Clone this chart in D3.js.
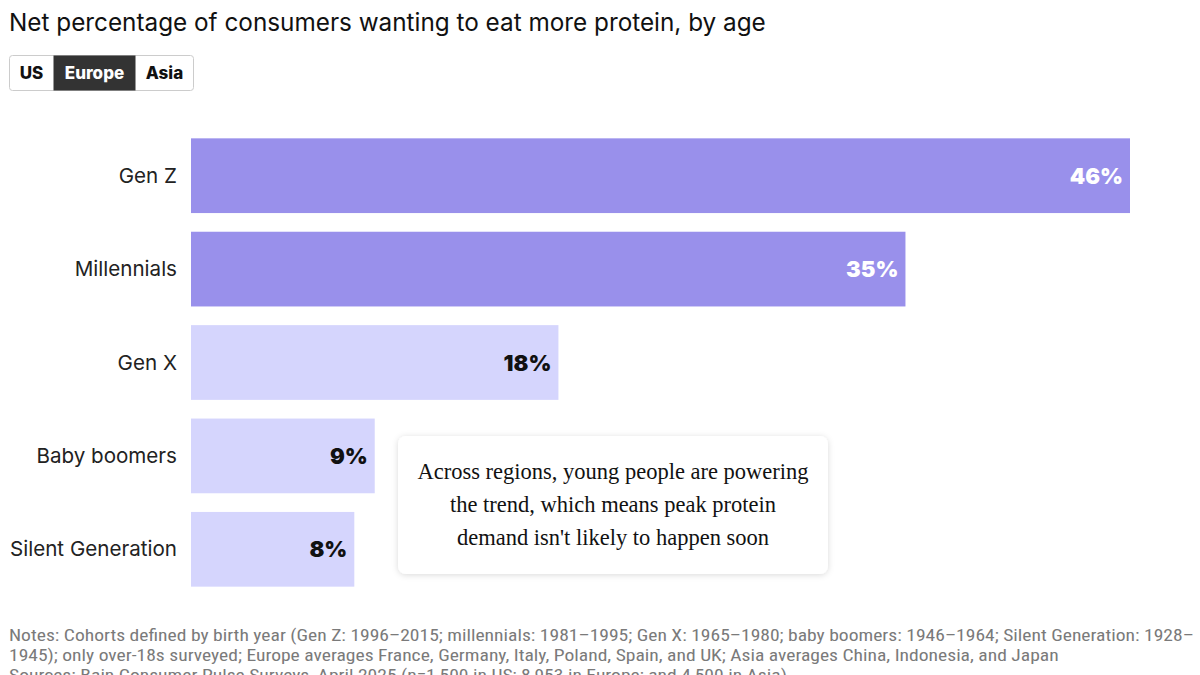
<!DOCTYPE html>
<html><head><meta charset="utf-8">
<script src="https://cdn.jsdelivr.net/npm/d3@7"></script>
<style>
html,body{margin:0;padding:0;background:#fff;}
svg{display:block;}
</style></head>
<body>
<svg id="chart" width="1200" height="675"></svg>
<script>
const categories = ["Gen Z", "Millennials", "Gen X", "Baby boomers", "Silent Generation"];
const values = [46, 35, 18, 9, 8];
const highlight = [true, true, false, false, false];
const regions = ["US", "Europe", "Asia"];
const activeRegion = "Europe";
const title = "Net percentage of consumers wanting to eat more protein, by age";
const annotationLines = ["Across regions, young people are powering", "the trend, which means peak protein", "demand isn't likely to happen soon"];
const noteLines = [
  "Notes: Cohorts defined by birth year (Gen Z: 1996–2015; millennials: 1981–1995; Gen X: 1965–1980; baby boomers: 1946–1964; Silent Generation: 1928–",
  "1945); only over-18s surveyed; Europe averages France, Germany, Italy, Poland, Spain, and UK; Asia averages China, Indonesia, and Japan",
  "Sources: Bain Consumer Pulse Surveys, April 2025 (n=1,500 in US; 8,953 in Europe; and 4,500 in Asia)"
];

const svg = d3.select("#chart");
const sans = "Inter, Roboto, 'Noto Sans', sans-serif";

svg.append("text").attr("x", 9).attr("y", 31)
  .attr("font-family", sans).attr("font-size", 24.3).attr("fill", "#111")
  .text(title);

// toggle
const btnW = [44, 82, 58];
const tg = svg.append("g").attr("transform", "translate(9,55)");
tg.append("rect").attr("x", 0.5).attr("y", 0.5).attr("width", d3.sum(btnW)).attr("height", 35)
  .attr("rx", 3).attr("fill", "#fff").attr("stroke", "#ccc");
let bx = 0;
regions.forEach((r, i) => {
  const active = r === activeRegion;
  if (active) tg.append("rect").attr("x", bx + 0.5).attr("y", 0.5).attr("width", btnW[i]).attr("height", 35).attr("fill", "#333");
  tg.append("text").attr("x", bx + btnW[i] / 2 + 0.5).attr("y", 24).attr("text-anchor", "middle")
    .attr("font-family", sans).attr("font-weight", 800).attr("font-size", 17)
    .attr("fill", active ? "#fff" : "#111").text(r);
  bx += btnW[i];
});

// chart
const x = d3.scaleLinear().domain([0, 46]).range([191, 1130]);
const y = d3.scaleBand().domain(categories).range([129, 596]).paddingInner(0.2).paddingOuter(0.1);

const data = categories.map((c, i) => ({c, v: values[i], h: highlight[i]}));

svg.append("g").selectAll("rect").data(data).join("rect")
  .attr("x", x(0)).attr("y", d => y(d.c)).attr("width", d => x(d.v) - x(0)).attr("height", y.bandwidth())
  .attr("fill", d => d.h ? "#9990eb" : "#d5d5fd");

svg.append("g").selectAll("text").data(data).join("text")
  .attr("x", 177).attr("y", d => y(d.c) + y.bandwidth() / 2 + 7)
  .attr("text-anchor", "end").attr("font-family", sans).attr("font-size", 20.6).attr("fill", "#222")
  .text(d => d.c);

svg.append("g").selectAll("text").data(data).join("text")
  .attr("x", d => x(d.v) - 7).attr("y", d => y(d.c) + y.bandwidth() / 2 + 8)
  .attr("text-anchor", "end").attr("font-family", sans).attr("font-weight", 900).attr("font-size", 22)
  .attr("fill", d => d.h ? "#fff" : "#111")
  .text(d => d.v + "%");

// annotation
const defs = svg.append("defs");
const f = defs.append("filter").attr("id", "sh").attr("x", "-10%").attr("y", "-20%").attr("width", "120%").attr("height", "140%");
f.append("feDropShadow").attr("dx", 0).attr("dy", 1).attr("stdDeviation", 3).attr("flood-color", "#000").attr("flood-opacity", 0.15);
svg.append("rect").attr("x", 398).attr("y", 436).attr("width", 430).attr("height", 138).attr("rx", 8)
  .attr("fill", "#fff").attr("filter", "url(#sh)");
svg.append("g").selectAll("text").data(annotationLines).join("text")
  .attr("x", 613).attr("y", (d, i) => 479 + i * 33).attr("text-anchor", "middle")
  .attr("font-family", "'Liberation Serif', 'DejaVu Serif', serif").attr("font-size", 22.5).attr("fill", "#111")
  .text(d => d);

// notes (condensed face, stretched horizontally to the reference width)
const ng = svg.append("g");
const notes = ng.selectAll("text").data(noteLines).join("text")
  .attr("x", 0).attr("y", (d, i) => 641 + i * 20)
  .attr("font-family", "'Liberation Sans Narrow', 'Roboto Condensed', Roboto, sans-serif").attr("font-size", 17).attr("fill", "#7a7a7a")
  .text(d => d);
const w0 = notes.node().getComputedTextLength();
ng.attr("transform", `translate(9,0) scale(${1186 / w0},1)`);
</script>
</body></html>
